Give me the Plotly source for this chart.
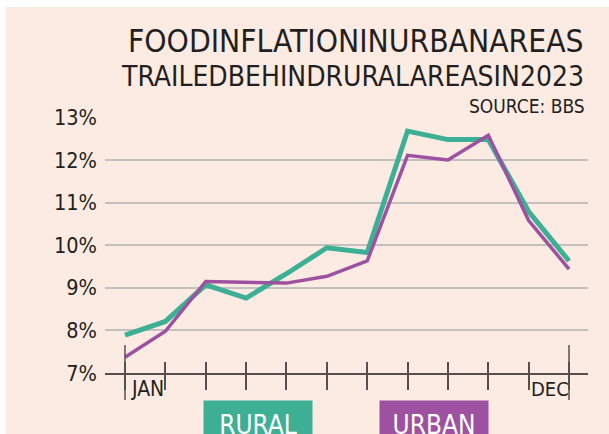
import plotly.graph_objects as go

MONTHS = ["JAN", "FEB", "MAR", "APR", "MAY", "JUN", "JUL", "AUG", "SEP", "OCT", "NOV", "DEC"]
RURAL = [7.89, 8.21, 9.07, 8.76, 9.33, 9.94, 9.83, 12.68, 12.48, 12.48, 10.79, 9.63]
URBAN = [7.37, 7.98, 9.15, 9.12, 9.11, 9.27, 9.63, 12.11, 12.00, 12.58, 10.58, 9.44]
Y_TICKS = [7, 8, 9, 10, 11, 12, 13]
Y_TICK_TEXT = ["7%", "8%", "9%", "10%", "11%", "12%", "13%"]
TITLE_1 = "FOODINFLATIONINURBANAREAS"
TITLE_2 = "TRAILEDBEHINDRURALAREASIN2023"
SOURCE = "SOURCE: BBS"

GREEN = "#3daf95"
PURPLE = "#9d51a0"
BG = "#fcebe3"
GRID = "#c3c0bf"
AXIS = "#574f4e"
TEXT = "#231f20"
FONT = "Liberation Sans Narrow, DejaVu Sans Condensed, Arial Narrow, sans-serif"

W, H = 609, 434
L, R, T, B = 105, 21, 117, 61
PW, PH = W - L - R, H - T - B


def px_x(px):
    return (px - L) / PW


def px_y(py):
    return (H - B - py) / PH


fig = go.Figure()
fig.add_trace(go.Scatter(x=MONTHS, y=URBAN, mode="lines", name="URBAN",
                         line=dict(color=PURPLE, width=3.5), xaxis="x2"))
fig.add_trace(go.Scatter(x=MONTHS, y=RURAL, mode="lines", name="RURAL",
                         line=dict(color=GREEN, width=5)))

n = len(MONTHS)
xr = [-0.4955, n - 1 + 0.47]

shapes = [
    dict(type="rect", xref="paper", yref="paper", x0=px_x(0), x1=px_x(W), y0=px_y(H), y1=px_y(0),
         fillcolor="white", line=dict(width=0), layer="below"),
    dict(type="rect", xref="paper", yref="paper", x0=px_x(6), x1=px_x(W), y0=px_y(H), y1=px_y(7),
         fillcolor=BG, line=dict(width=0), layer="below"),
]
for i in (0, n - 1):
    shapes.append(dict(type="line", xref="x", yref="paper", x0=i, x1=i,
                       y0=px_y(400), y1=px_y(345), line=dict(color=AXIS, width=1.5)))

annotations = [
    dict(text=TITLE_1, xref="paper", yref="paper", x=px_x(586), y=px_y(41), xanchor="right",
         yanchor="middle", showarrow=False, font=dict(family=FONT, size=31.5, color=TEXT)),
    dict(text=TITLE_2, xref="paper", yref="paper", x=px_x(586), y=px_y(76), xanchor="right",
         yanchor="middle", showarrow=False, font=dict(family=FONT, size=28, color=TEXT)),
    dict(text=SOURCE, xref="paper", yref="paper", x=px_x(587), y=px_y(106), xanchor="right",
         yanchor="middle", showarrow=False, font=dict(family=FONT, size=19, color=TEXT)),
    dict(text=MONTHS[0], xref="x", yref="paper", x=0, y=px_y(389), xanchor="left", xshift=4,
         yanchor="middle", showarrow=False, font=dict(family=FONT, size=21, color=TEXT)),
    dict(text=MONTHS[-1], xref="x", yref="paper", x=n - 2, y=px_y(389), xanchor="left", xshift=0,
         yanchor="middle", showarrow=False, font=dict(family=FONT, size=20, color=TEXT)),
    dict(text="RURAL", xref="paper", yref="paper", x=px_x(203), y=px_y(400), xanchor="left",
         yanchor="top", width=108, height=48, valign="middle", bgcolor=GREEN, borderpad=0,
         showarrow=False, font=dict(family=FONT, size=26, color="white")),
    dict(text="URBAN", xref="paper", yref="paper", x=px_x(379), y=px_y(400), xanchor="left",
         yanchor="top", width=108, height=48, valign="middle", bgcolor=PURPLE, borderpad=0,
         showarrow=False, font=dict(family=FONT, size=26, color="white")),
]

fig.update_layout(
    width=W, height=H,
    margin=dict(l=L, r=R, t=T, b=B, pad=0),
    paper_bgcolor=BG, plot_bgcolor=BG,
    showlegend=False,
    shapes=shapes,
    annotations=annotations,
    xaxis=dict(type="category", categoryarray=MONTHS, range=xr, showgrid=False, zeroline=False,
               showline=True, linecolor=AXIS, linewidth=2, ticks="outside", ticklen=15,
               tickwidth=1.5, tickcolor=AXIS, showticklabels=False, fixedrange=True),
    xaxis2=dict(type="category", categoryarray=MONTHS, range=xr, overlaying="x", anchor="y",
                side="bottom", showgrid=False, zeroline=False, showline=False, ticks="inside",
                ticklen=11, tickwidth=1.5, tickcolor=AXIS, showticklabels=False),
    yaxis=dict(range=[7, 13.01], tickvals=Y_TICKS, ticktext=Y_TICK_TEXT, showgrid=True,
               gridcolor=GRID, gridwidth=1.5, zeroline=False, showline=False, ticks="",
               ticklabelstandoff=7, tickfont=dict(family=FONT, size=21.5, color=TEXT)),
)

fig.write_html("out.html")
